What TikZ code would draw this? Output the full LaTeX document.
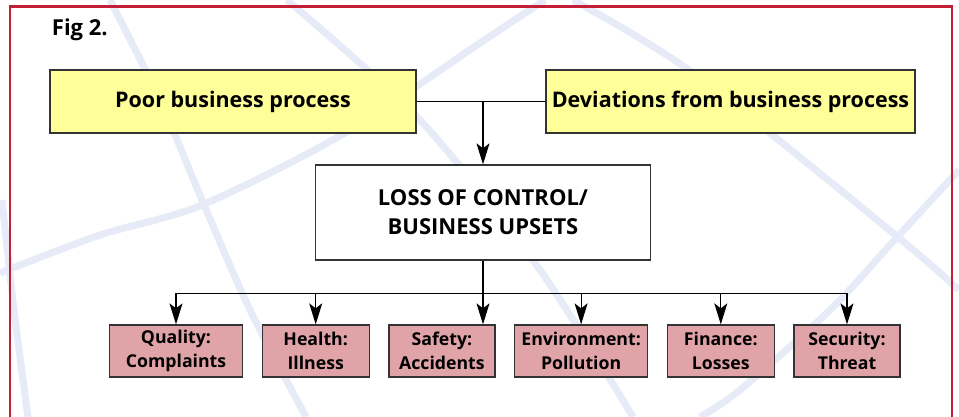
\documentclass[tikz,border=0pt]{standalone}
\usepackage{fontspec}
\setmainfont{Open Sans}
\usepackage{tikz}
\usetikzlibrary{arrows.meta,positioning}
\definecolor{framered}{RGB}{196,30,52}
\definecolor{padyellow}{RGB}{255,255,153}
\definecolor{padpink}{RGB}{224,163,168}
\definecolor{webblue}{RGB}{230,235,247}
\tikzset{box node/.style={rectangle,draw=black!80,line width=1.3pt,inner sep=0pt,align=center},
}

\begin{document}
\begin{tikzpicture}[x=1pt,y=-1pt,line width=1.2pt,
feed/.style={-{Stealth[length=21pt,width=13pt,inset=5pt]}},
cause/.style={box node,fill=padyellow,minimum height=63pt,font=\fontsize{21.5}{26}\selectfont\bfseries},
upset/.style={box node,fill=white,minimum width=335pt,minimum height=95pt,font=\fontsize{22}{29}\selectfont\bfseries},
effect/.style={box node,fill=padpink,minimum height=52pt,font=\fontsize{17.7}{24}\selectfont\bfseries}]

\useasboundingbox (0,0) rectangle (959,417);
\fill[white] (0,0) rectangle (959,417);

% background web
\begin{scope}[draw=webblue,line width=7pt]
\draw plot[smooth] coordinates {(110,0) (160,100) (202,200) (250,310) (306,417)};
\draw plot[smooth] coordinates {(0,273) (100,235) (202,205) (345,133) (480,43) (545,0)};
\draw plot[smooth] coordinates {(287,0) (420,120) (540,270) (633,417)};
\draw plot[smooth] coordinates {(573,0) (693,73) (893,233) (959,290)};
\draw plot[smooth] coordinates {(959,170) (890,245) (830,310) (740,390) (700,417)};
\draw plot[smooth] coordinates {(2,200) (14,310) (28,417)};
\end{scope}

\draw[framered,line width=2.5pt] (10,417) |- (952,6.5) -- (952,417);

\node[font=\fontsize{22}{26}\selectfont\bfseries,anchor=base west] (fig) at (48,36) {Fig 2.};

\node[cause,minimum width=366pt] (poor) at (233,101.5) {Poor business process};
\node[cause,minimum width=369pt] (dev) at (730.5,101.5) {Deviations from business process};
\node[upset] (loss) at (483,212.5) {LOSS OF CONTROL/\\BUSINESS UPSETS};

\node[effect,minimum width=133pt] (quality) at (176,351) {Quality:\\Complaints};
\node[effect,minimum width=107pt,right=18.4pt of quality] (health) {Health:\\Illness};
\node[effect,minimum width=106pt,right=18.4pt of health] (safety) {Safety:\\Accidents};
\node[effect,minimum width=133pt,right=18.4pt of safety] (environment) {Environment:\\Pollution};
\node[effect,minimum width=107pt,right=18.4pt of environment] (finance) {Finance:\\Losses};
\node[effect,minimum width=106pt,right=18.4pt of finance] (security) {Security:\\Threat};

\coordinate (bus) at (483,293.5);

\draw (poor) -- (dev);
\draw[feed] (loss.north |- poor.east) -- (loss);
\draw (loss) -- (bus);
\foreach \n in {quality,health,environment,finance,security}
  \draw[feed] (bus) -| (\n);
\draw[feed] (bus) -- (safety.north -| bus);
\end{tikzpicture}
\end{document}
